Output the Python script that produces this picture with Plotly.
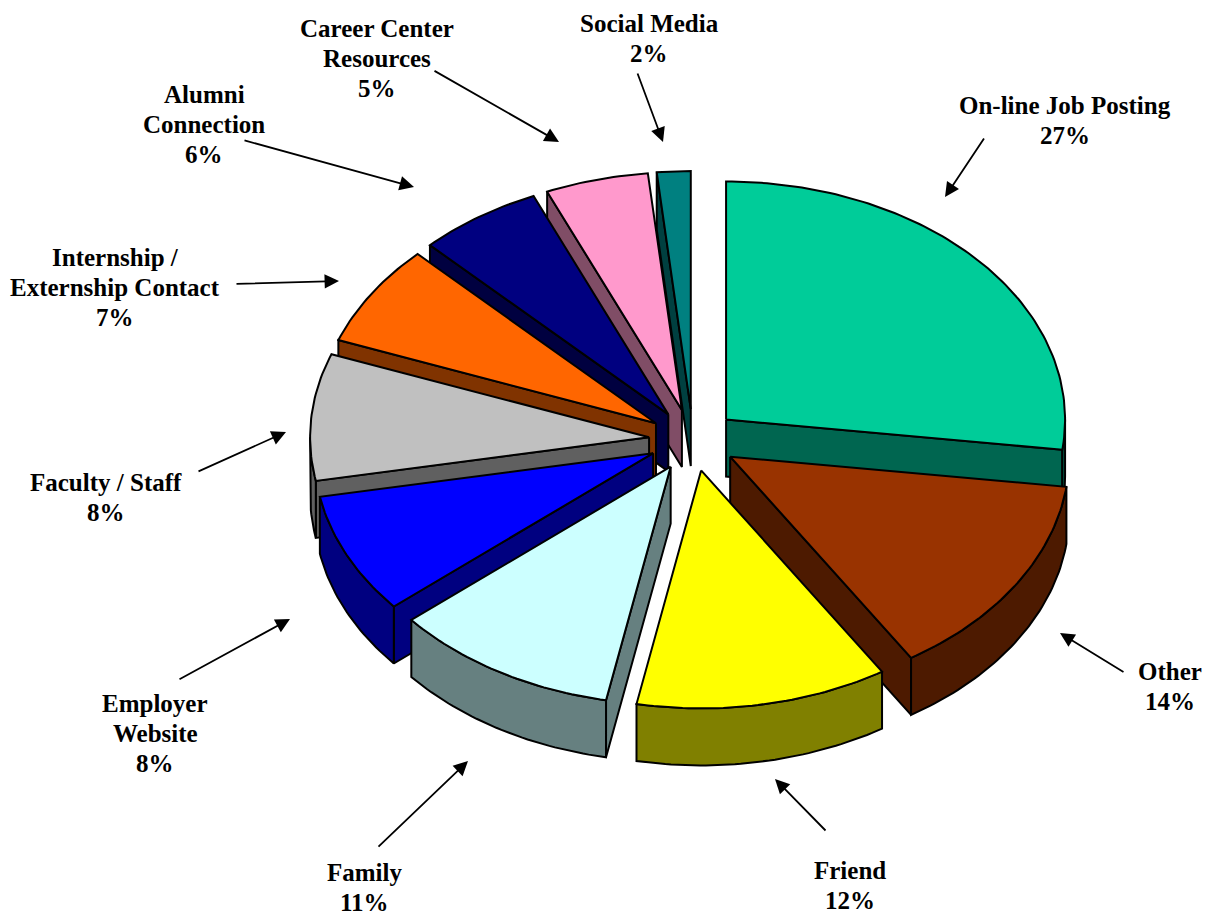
import math
import plotly.graph_objects as go

# ---- chart data -----------------------------------------------------------
categories = ["On-line Job Posting", "Other", "Friend", "Family", "Employer Website",
              "Faculty / Staff", "Internship / Externship Contact", "Alumni Connection",
              "Career Center Resources", "Social Media"]
# slice sizes
values = [27, 14, 12, 10.8, 8.2, 8.6, 6.9, 5.9, 4.9, 1.6]
# percentages printed on the chart
percent_labels = ["27%", "14%", "12%", "11%", "8%", "8%", "7%", "6%", "5%", "2%"]
label_lines = [["On-line Job Posting"], ["Other"], ["Friend"], ["Family"],
               ["Employer", "Website"], ["Faculty / Staff"],
               ["Internship /", "Externship Contact"], ["Alumni", "Connection"],
               ["Career Center", "Resources"], ["Social Media"]]

# ---- styles ---------------------------------------------------------------
top_colors = ["#00CC99", "#993300", "#FFFF00", "#CCFFFF", "#0000FF",
              "#C0C0C0", "#FF6600", "#000080", "#FF99CC", "#008080"]
side_colors = ["#006650", "#4D1A00", "#808000", "#668080", "#000080",
               "#606060", "#803300", "#000040", "#804D66", "#004040"]
paint_order = [9, 8, 7, 6, 0, 5, 4, 1, 3, 2]
CX, CY, RX, RY, EXPLODE, DEPTH = 693, 440, 339, 238, 0.13, 57
FONT = dict(family="Liberation Serif", size=25, color="black")
LINE_GAP = 30
label_pos = [(1065, 120), (1170, 686), (850, 885), (364, 887), (155, 733),
             (106, 497), (115, 287), (204, 124), (377, 58), (649, 38)]
arrows = [((985, 137), (945, 197)), ((1125, 673), (1060, 633)), ((827, 832), (775, 779)),
          ((377, 848), (468, 761)), ((178, 680), (290, 619)), ((197, 472), (286, 432)),
          ((235, 284), (339, 281)), ((243, 140), (414, 187)), ((433, 70), (559, 142)),
          ((637, 72), (663, 142))]


def proj(apex, deg, r=1.0):
    t = math.radians(deg)
    return apex[0] + RX * r * math.sin(t), apex[1] - RY * r * math.cos(t)


def poly(fig, pts, color):
    xs = [p[0] for p in pts] + [pts[0][0]]
    ys = [p[1] for p in pts] + [pts[0][1]]
    fig.add_trace(go.Scatter(x=xs, y=ys, mode="lines", fill="toself", fillcolor=color,
                             line=dict(color="black", width=2), hoverinfo="skip",
                             showlegend=False))


total = sum(values)
angles = []
acc = 0.0
for v in values:
    angles.append((acc, acc + 360.0 * v / total))
    acc += 360.0 * v / total

fig = go.Figure()
for i in paint_order:
    a0, a1 = angles[i]
    mid = (a0 + a1) / 2
    apex = proj((CX, CY), mid, EXPLODE)
    down = lambda p: (p[0], p[1] + DEPTH)
    # visible radial cut faces
    if math.sin(math.radians(a1)) > 0:
        e = proj(apex, a1)
        poly(fig, [apex, e, down(e), down(apex)], side_colors[i])
    if math.sin(math.radians(a0)) < 0:
        s = proj(apex, a0)
        poly(fig, [apex, s, down(s), down(apex)], side_colors[i])
    # visible part of the outer wall (front half of the rim)
    w0, w1 = max(a0, 90), min(a1, 270)
    if w1 > w0:
        n = max(2, int(w1 - w0) + 1)
        arc = [proj(apex, w0 + (w1 - w0) * k / n) for k in range(n + 1)]
        poly(fig, arc + [down(p) for p in reversed(arc)], side_colors[i])
    # top face
    n = max(2, int(a1 - a0) + 1)
    arc = [proj(apex, a0 + (a1 - a0) * k / n) for k in range(n + 1)]
    poly(fig, [apex] + arc, top_colors[i])

for lines, pct, (x, y) in zip(label_lines, percent_labels, label_pos):
    rows = lines + [pct]
    for k, row in enumerate(rows):
        fig.add_annotation(x=x, y=y + (k - (len(rows) - 1) / 2) * LINE_GAP, xref="x", yref="y",
                           showarrow=False, xanchor="center", yanchor="middle", align="center",
                           font=FONT, text="<b>" + row + "</b>")

for (tail, head) in arrows:
    fig.add_annotation(x=head[0], y=head[1], ax=tail[0], ay=tail[1], xref="x", yref="y",
                       axref="x", ayref="y", text="", showarrow=True, arrowhead=2,
                       arrowsize=1.6, arrowwidth=1.8, arrowcolor="black", standoff=0)

fig.update_layout(width=1207, height=916, margin=dict(l=0, r=0, t=0, b=0),
                  paper_bgcolor="white", plot_bgcolor="white", showlegend=False,
                  xaxis=dict(range=[0, 1207], visible=False, fixedrange=True),
                  yaxis=dict(range=[916, 0], visible=False, fixedrange=True))
fig.write_html("out.html", config={"displayModeBar": False},
               post_script="document.body.style.margin='0';document.body.style.overflow='hidden';")
